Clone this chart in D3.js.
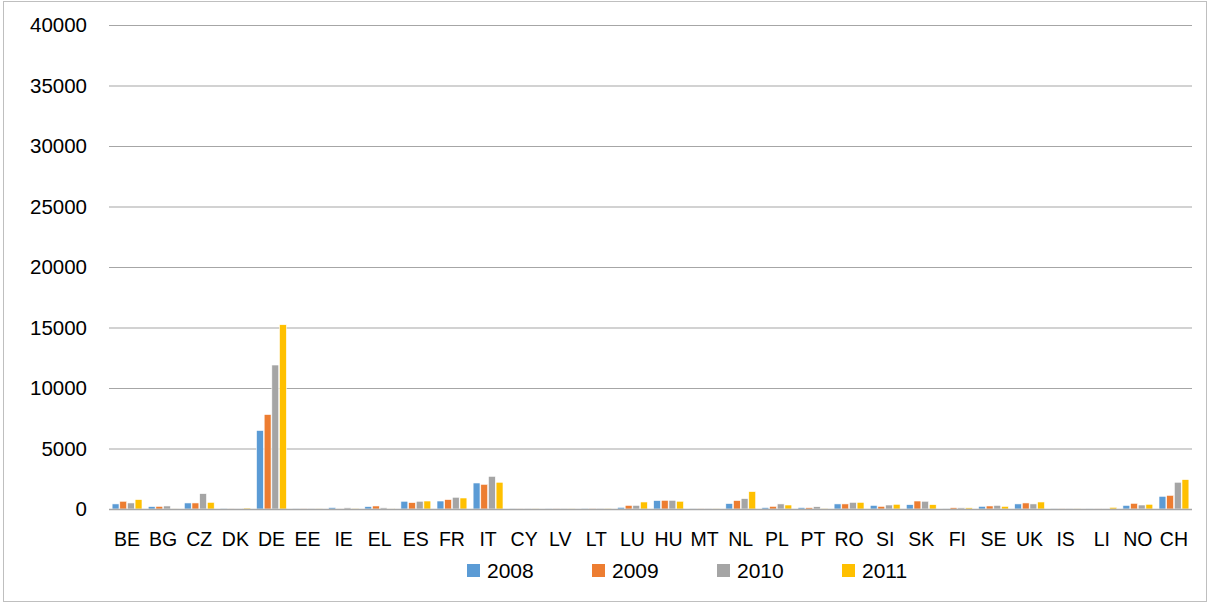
<!DOCTYPE html>
<html><head><meta charset="utf-8">
<script src="https://cdn.jsdelivr.net/npm/d3@7/dist/d3.min.js"></script>
<style>body{margin:0;background:#fff;}svg{display:block;font-family:"Liberation Sans",Arial,sans-serif;}</style>
</head><body><div id="chart"></div>
<script>
const categories = ["BE","BG","CZ","DK","DE","EE","IE","EL","ES","FR","IT","CY","LV","LT","LU","HU","MT","NL","PL","PT","RO","SI","SK","FI","SE","UK","IS","LI","NO","CH"];
const seriesNames = ["2008","2009","2010","2011"];
const v2008 = [420,200,500,20,6490,10,120,200,640,660,2150,50,10,20,140,700,10,450,120,120,420,300,360,40,220,420,10,30,300,1050];
const v2009 = [640,220,500,40,7810,10,30,250,530,780,2040,40,10,20,300,720,10,700,220,110,420,220,660,110,250,500,10,30,470,1130];
const v2010 = [500,250,1270,30,11900,10,100,100,640,970,2700,10,10,20,300,720,10,860,420,190,550,330,640,100,300,420,10,30,330,2210];
const v2011 = [780,30,550,80,15230,10,20,30,660,910,2210,10,10,20,580,640,10,1440,330,20,550,390,360,100,220,580,10,140,390,2430];
const yTicks = [0,5000,10000,15000,20000,25000,30000,35000,40000];
const colors = ["#5B9BD5","#ED7D31","#A5A5A5","#FFC000"];
const series = [v2008,v2009,v2010,v2011];

(function(){
const W=1210,H=604;
const svg=d3.select("#chart").append("svg").attr("width",W).attr("height",H);
svg.append("rect").attr("x",3.5).attr("y",1.5).attr("width",1203).attr("height",600).attr("fill","#fff").attr("stroke","#BFBFBF");

const pL=109,pR=1192,pT=25,pB=509;
const x=d3.scaleBand().domain(categories).range([pL,pR]).paddingInner(0.13).paddingOuter(0.065);
const x1=d3.scaleBand().domain(seriesNames).range([0,x.bandwidth()]).padding(0.1);
const y=d3.scaleLinear().domain([0,40000]).range([pB,pT]);

svg.append("g").selectAll("line").data(yTicks.filter(d=>d>0)).join("line")
 .attr("x1",pL).attr("x2",pR).attr("y1",d=>y(d)+0.5).attr("y2",d=>y(d)+0.5)
 .attr("stroke","#A6A6A6").attr("stroke-width",1.2);

const yAxis=d3.axisLeft(y).tickValues(yTicks).tickSize(0).tickPadding(0).tickFormat(d=>String(d));
const ga=svg.append("g").attr("transform",`translate(87,0)`).call(yAxis);
ga.select(".domain").remove();
ga.selectAll("text").attr("font-size",20.5).attr("fill","#000").attr("font-family","Liberation Sans, Arial, sans-serif");

const gs=svg.append("g").selectAll("g").data(series).join("g").attr("fill",(d,i)=>colors[i]);
gs.each(function(vals,si){
  d3.select(this).selectAll("rect").data(vals).join("rect")
   .attr("x",(d,i)=>x(categories[i])+x1(seriesNames[si]))
   .attr("width",x1.bandwidth())
   .attr("y",d=>y(d))
   .attr("height",d=>pB-y(d))
   .attr("stroke","#fff").attr("stroke-width",0.6);
});

svg.append("line").attr("x1",pL).attr("x2",pR).attr("y1",pB+0.5).attr("y2",pB+0.5).attr("stroke","#A6A6A6").attr("stroke-width",1.5);

const xAxis=d3.axisBottom(x).tickSize(0).tickPadding(0);
const gx=svg.append("g").attr("transform",`translate(0,546)`).call(xAxis);
gx.select(".domain").remove();
gx.selectAll("text").attr("font-size",19.5).attr("fill","#000").attr("y",0).attr("dy",0).attr("font-family","Liberation Sans, Arial, sans-serif");

const lg=svg.append("g").selectAll("g").data(seriesNames).join("g")
 .attr("transform",(d,i)=>`translate(${467+i*125},564)`);
lg.append("rect").attr("width",13).attr("height",13).attr("fill",(d,i)=>colors[i]);
lg.append("text").attr("x",20).attr("y",14).attr("font-size",21).text(d=>d);
})();
</script></body></html>
